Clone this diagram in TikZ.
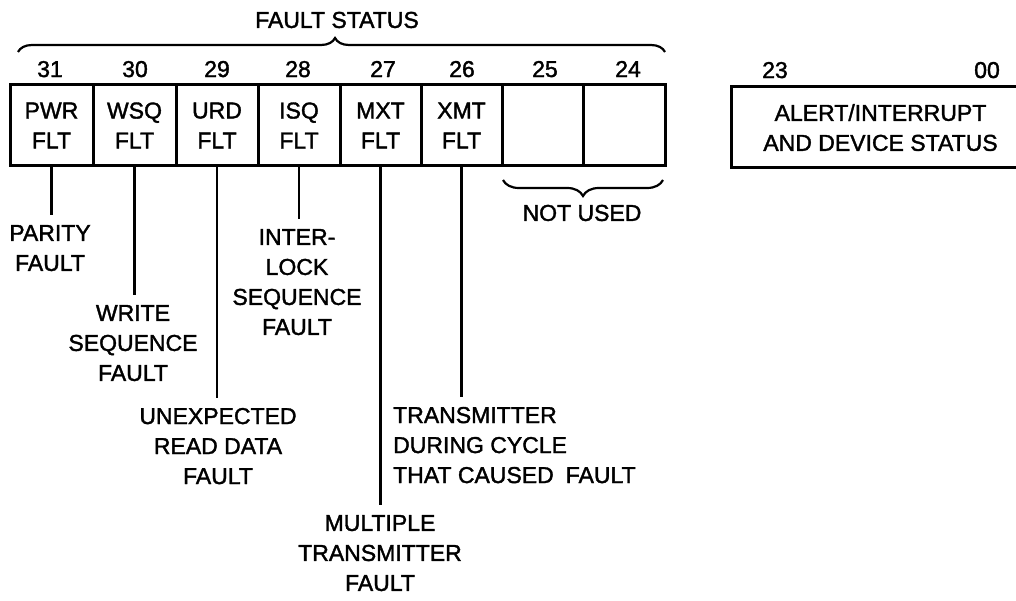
\documentclass[tikz,border=0pt]{standalone}
\usepackage{fontspec}
\setmainfont{Liberation Sans}[UprightFeatures={FakeBold=1.6}]
\usetikzlibrary{decorations.pathreplacing}
\begin{document}
\begin{tikzpicture}[x=1pt,y=-1pt,
  txt/.style={font=\fontsize{23}{30}\selectfont},
  cell/.style={txt, draw, line width=3pt, minimum height=81pt, inner sep=0pt, align=center, text depth=0pt},
  num/.style={font=\fontsize{23}{26}\selectfont, inner sep=0pt, text depth=0pt},
  lbl/.style={txt, align=center, inner xsep=0pt, inner ysep=10pt, text depth=0pt},
  leader/.style={line width=2.5pt},
  bracedeco/.style={line width=2.2pt, decorate, decoration={brace, amplitude=#1}},
]
\useasboundingbox[fill=white] (0,0) rectangle (1016,601);

% fault status register cells
\node[cell, minimum width=83pt] (c31) at (51.5,125.5) {PWR\\FLT};
\node[cell, minimum width=83pt] (c30) at (134.5,125.5) {WSQ\\FLT};
\node[cell, minimum width=82pt] (c29) at (217,125.5) {URD\\FLT};
\node[cell, minimum width=82pt] (c28) at (299,125.5) {ISQ\\FLT};
\node[cell, minimum width=81pt] (c27) at (380.5,125.5) {MXT\\FLT};
\node[cell, minimum width=81pt] (c26) at (461.5,125.5) {XMT\\FLT};
\node[cell, minimum width=81pt] (c25) at (542.5,125.5) {};
\node[cell, minimum width=82pt] (c24) at (624,125.5) {};

% bit numbers
\node[num] (n31) at (50,69) {31};
\node[num] (n30) at (135,69) {30};
\node[num] (n29) at (217,69) {29};
\node[num] (n28) at (298,69) {28};
\node[num] (n27) at (383,69) {27};
\node[num] (n26) at (462,69) {26};
\node[num] (n25) at (545,69) {25};
\node[num] (n24) at (628,69) {24};

% top brace and title
\coordinate (tbl) at (18,52);
\coordinate (tbr) at (665,52);
\draw[bracedeco=14pt, decoration={aspect=0.49}] (tbl) -- (tbr);
\node[txt, inner sep=0pt] (fs) at (337,20) {FAULT STATUS};

% not used brace
\coordinate (nbl) at (503,180);
\coordinate (nbr) at (663,180);
\draw[bracedeco=16pt, decoration={mirror}] (nbl) -- (nbr);
\node[txt, inner sep=0pt] (nu) at (582,213) {NOT USED};

% labels
\node[lbl] (l31) at (50,248) {PARITY\\FAULT};
\node[lbl] (l30) at (133,343) {WRITE\\SEQUENCE\\FAULT};
\node[lbl] (l29) at (218,446) {UNEXPECTED\\READ DATA\\FAULT};
\node[lbl] (l28) at (297,282) {INTER-\\LOCK\\SEQUENCE\\FAULT};
\node[lbl] (l27) at (380,553) {MULTIPLE\\TRANSMITTER\\FAULT};
\node[lbl, align=left, anchor=west] (l26) at (393,445) {TRANSMITTER\\DURING CYCLE\\THAT CAUSED\hspace{12pt}FAULT};

% leaders
\draw[leader] (c31.south) -- (c31.south |- l31.north);
\draw[leader] (c30.south) -- (c30.south |- l30.north);
\draw[leader] (c29.south) -- (c29.south |- l29.north);
\draw[leader] (c28.south) -- (c28.south |- l28.north);
\draw[leader] (c27.south) -- (c27.south |- l27.north);
\draw[leader] (c26.south) -- (c26.south |- l26.north);

% alert/interrupt register
\node[cell, minimum width=299pt, minimum height=81pt] (ad) at (880.5,127.5) {ALERT/INTERRUPT\\AND DEVICE STATUS};
\node[num] (n23) at (775,70) {23};
\node[num] (n00) at (987,70) {00};
\end{tikzpicture}
\end{document}
